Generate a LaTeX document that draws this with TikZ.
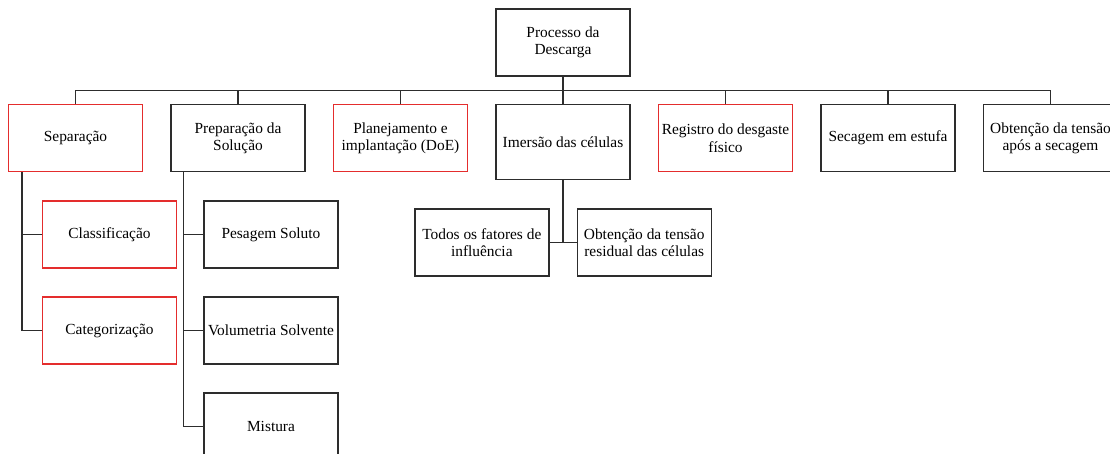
\documentclass[tikz,border=0pt]{standalone}
\usepackage{fontspec}
\setmainfont{Liberation Serif}
\newfontfamily\boxfont{Liberation Serif}
\usetikzlibrary{positioning}
\definecolor{boxred}{RGB}{228,45,45}
\definecolor{linegray}{RGB}{45,45,45}

\begin{document}
\begin{tikzpicture}[x=1pt,y=1pt,line width=1.4pt,
    box/.style={draw=linegray,rectangle,minimum width=134pt,minimum height=67pt,
                align=center,inner sep=2pt,font=\boxfont\fontsize{15.4}{17.7}\selectfont},
    redbox/.style={box,draw=boxred},
    link/.style={draw=linegray,line width=1.4pt}]

    \useasboundingbox (0,0) rectangle (1110,-453);

    \node[redbox,anchor=north] (sep) at (75.5,-104) {Separação};
    \node[box,right=27.1pt of sep.north east,anchor=north west] (prep) {Preparação da\\Solução};
    \node[redbox,right=27.1pt of prep.north east,anchor=north west] (plan) {Planejamento e\\implantação (DoE)};
    \node[box,right=27.1pt of plan.north east,anchor=north west,minimum height=75pt] (imer) {Imersão das células};
    \node[redbox,right=27.1pt of imer.north east,anchor=north west] (reg) {Registro do desgaste\\físico};
    \node[box,right=27.1pt of reg.north east,anchor=north west] (sec) {Secagem em estufa};
    \node[box,right=27.1pt of sec.north east,anchor=north west] (obt) {Obtenção da tensão\\após a secagem};

    \node[box,above=27.5pt of imer] (root) {Processo da\\Descarga};

    \node[redbox,below right=28pt and 34pt of sep.south west] (cla) {Classificação};
    \node[redbox,below=27.5pt of cla] (cat) {Categorização};

    \node[box,below right=28pt and 33pt of prep.south west] (pes) {Pesagem Soluto};
    \node[box,below=27.5pt of pes] (vol) {Volumetria Solvente};
    \node[box,below=27.5pt of vol] (mis) {Mistura};

    \node[box,below left=28pt and 13.5pt of imer.south] (todos) {Todos os fatores de\\influência};
    \node[box,below right=28pt and 13.5pt of imer.south] (res) {Obtenção da tensão\\residual das células};

    \draw[link] (root.south) -- (imer.north);
    \draw[link] (sep.north) -- ++(0,13.5) -| (obt.north);
    \foreach \n in {prep,plan,reg,sec}
        \draw[link] (\n.north) -- ++(0,13.5);

    \foreach \n in {cla,cat}
        \draw[link] ([xshift=14pt]sep.south west) |- (\n.west);
    \foreach \n in {pes,vol,mis}
        \draw[link] ([xshift=13pt]prep.south west) |- (\n.west);

    \draw[link] (imer.south) -- (imer.south |- todos.east);
    \draw[link] (todos.east) -- (res.west);

\end{tikzpicture}
\end{document}
